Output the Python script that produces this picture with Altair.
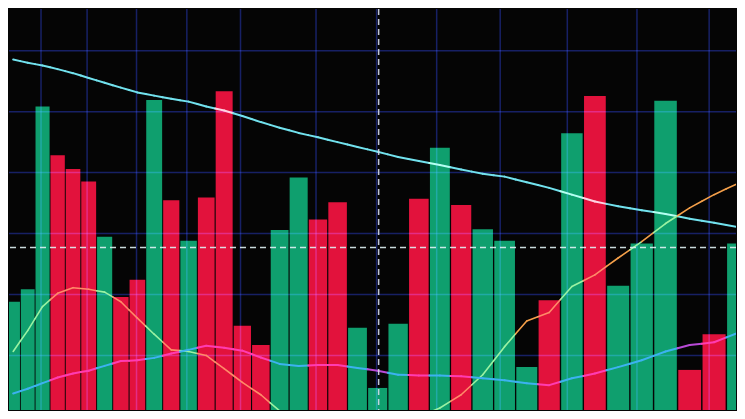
import altair as alt
import pandas as pd

# ---------------- data ----------------
bar_values = [27.0, 30.1, 75.7, 63.5, 60.1, 57.0, 43.2, 28.2, 32.5, 77.3,
              52.3, 42.2, 53.0, 79.5, 21.0, 16.2, 44.9, 58.0, 47.5, 51.8,
              20.5, 5.5, 21.5, 52.7, 65.4, 51.1, 45.1, 42.2, 10.7, 27.4,
              69.0, 78.3, 31.0, 41.5, 77.1, 10.0, 18.9, 41.5]
bar_dirs = ["up", "up", "up", "down", "down", "down", "up", "down", "down", "up",
            "down", "up", "down", "down", "down", "down", "up", "up", "down", "down",
            "up", "up", "up", "down", "up", "down", "up", "up", "up", "down",
            "up", "down", "up", "up", "up", "down", "down", "up"]

slow_line = [87.4, 86.6, 85.9, 85.0, 84.0, 82.8, 81.6, 80.4, 79.2, 78.4,
             77.6, 76.9, 75.7, 74.7, 73.3, 71.8, 70.4, 69.1, 68.0, 66.8,
             65.6, 64.4, 63.1, 62.1, 61.1, 60.0, 58.9, 58.2, 56.8, 55.4,
             53.7, 52.0, 50.8, 49.8, 48.9, 47.7, 46.7, 45.6]
fast_line = [14.6, 19.8, 25.8, 29.1, 30.5, 30.1, 29.4, 27.0, 22.9, 18.9,
             15.0, 14.6, 13.6, 10.3, 6.9, 3.8, -0.2, -2.1, -2.9, -3.3,
             -3.8, -3.6, -3.1, -1.7, 0.5, 3.8, 8.8, 15.8, 22.2, 24.3,
             30.8, 33.7, 37.9, 42.0, 46.5, 50.4, 53.7, 56.6]
mid_line = [4.1, 5.3, 6.7, 8.1, 9.1, 9.8, 11.0, 12.2, 12.4, 13.0,
            14.1, 15.0, 16.0, 15.5, 14.8, 13.1, 11.5, 11.0, 11.2, 11.2,
            10.5, 9.8, 8.8, 8.6, 8.6, 8.4, 7.9, 7.4, 6.7, 6.2,
            7.9, 9.1, 10.7, 12.4, 14.6, 16.2, 16.9, 19.3]

grid_levels = [13.6, 28.8, 44.0, 59.2, 74.4, 89.6]
grid_slots = [2.4, 5.4, 8.45, 11.4, 14.4, 18.4, 21.45, 24.35, 27.3, 30.3, 33.3, 36.3]
cross_level = [40.5]
cross_slot = [21.55]

# ---------------- styling ----------------
OFF = 50.6          # offset for the perspective (pow) x scale
BG = "#050505"
GREEN = "#0f9f6e"
RED = "#e2123c"
GRID = "#121c62"
line_styles = {
    "slow": dict(width=2.0, bg="#72e2ee", up="#b4fff2", down="#ffd2e2"),
    "fast": dict(width=1.6, bg="#f5a04a", up="#9af2a2", down="#ff8a68"),
    "mid": dict(width=2.0, bg="#b84ad6", up="#3cb2f0", down="#ff3cb2"),
}
series = {"slow": slow_line, "fast": fast_line, "mid": mid_line}

bars = pd.DataFrame({"slot": list(range(len(bar_values))),
                     "value": bar_values, "dir": bar_dirs})


def tone_of(k, v):
    return bar_dirs[k] if v < bar_values[k] else "bg"


x_scale = alt.Scale(type="pow", exponent=2, domain=[50.81, 87.99], nice=False)
y_scale = alt.Scale(domain=[0, 100], nice=False, zero=False)

bar_layer = alt.Chart(bars).transform_calculate(
    xa=f"datum.slot + 0.03 + {OFF}", xb=f"datum.slot + 0.97 + {OFF}"
).mark_bar(clip=True).encode(
    x=alt.X("xa:Q", scale=x_scale, axis=None),
    x2="xb:Q",
    y=alt.Y("value:Q", scale=y_scale, axis=None),
    y2=alt.datum(0),
    color=alt.Color("dir:N", scale=alt.Scale(domain=["up", "down"], range=[GREEN, RED]), legend=None),
)

grid_h = alt.Chart(pd.DataFrame({"level": grid_levels})).mark_rule(
    color=GRID, strokeWidth=1.5, blend="screen"
).encode(y=alt.Y("level:Q", scale=y_scale, axis=None))

grid_v = alt.Chart(pd.DataFrame({"slot": grid_slots})).transform_calculate(
    xs=f"datum.slot + {OFF}"
).mark_rule(color=GRID, strokeWidth=1.5, blend="screen").encode(
    x=alt.X("xs:Q", scale=x_scale, axis=None))

layers = [bar_layer, grid_h, grid_v]

for name, vals in series.items():
    st = line_styles[name]
    rows = []
    n = len(vals)
    seg_id = 0
    for k in range(n):
        c = k + 0.5
        pieces = []
        if k > 0:
            bl = (vals[k - 1] + vals[k]) / 2
            pieces.append(((k, bl), (c, vals[k]), tone_of(k, (bl + vals[k]) / 2)))
        if k < n - 1:
            br = (vals[k] + vals[k + 1]) / 2
            pieces.append(((c, vals[k]), (k + 1, br), tone_of(k, (br + vals[k]) / 2)))
        for (p0, p1, tone) in pieces:
            rows.append(dict(seg=seg_id, ord=0, bx=p0[0], val=p0[1], tone=tone))
            rows.append(dict(seg=seg_id, ord=1, bx=p1[0], val=p1[1], tone=tone))
            seg_id += 1
    seg = pd.DataFrame(rows)
    layers.append(
        alt.Chart(seg).transform_calculate(
            xs=f"datum.bx + {OFF}"
        ).mark_line(strokeWidth=st["width"], strokeCap="round", clip=True).encode(
            x=alt.X("xs:Q", scale=x_scale, axis=None),
            y=alt.Y("val:Q", scale=y_scale, axis=None),
            detail="seg:N",
            order="ord:Q",
            color=alt.Color("tone:N", scale=alt.Scale(domain=["bg", "up", "down"],
                                                      range=[st["bg"], st["up"], st["down"]]),
                            legend=None),
        )
    )

h_cross = alt.Chart(pd.DataFrame({"level": cross_level})).mark_rule(
    color="#dff2f4", strokeWidth=1.5, strokeDash=[6, 4], opacity=0.9
).encode(y=alt.Y("level:Q", scale=y_scale, axis=None))

v_cross = alt.Chart(pd.DataFrame({"slot": cross_slot})).transform_calculate(
    xs=f"datum.slot + {OFF}"
).mark_rule(color="#d6dcec", strokeWidth=1.5, strokeDash=[6, 4], opacity=0.9).encode(
    x=alt.X("xs:Q", scale=x_scale, axis=None))

layers += [h_cross, v_cross]

chart = alt.layer(*layers).resolve_scale(color="independent").properties(
    width=729, height=403, background=BG, padding=0,
    autosize=alt.AutoSizeParams(type="fit", contains="padding"),
).configure_view(stroke=None)

chart.save("out.html", embed_options={"renderer": "svg", "actions": False})
